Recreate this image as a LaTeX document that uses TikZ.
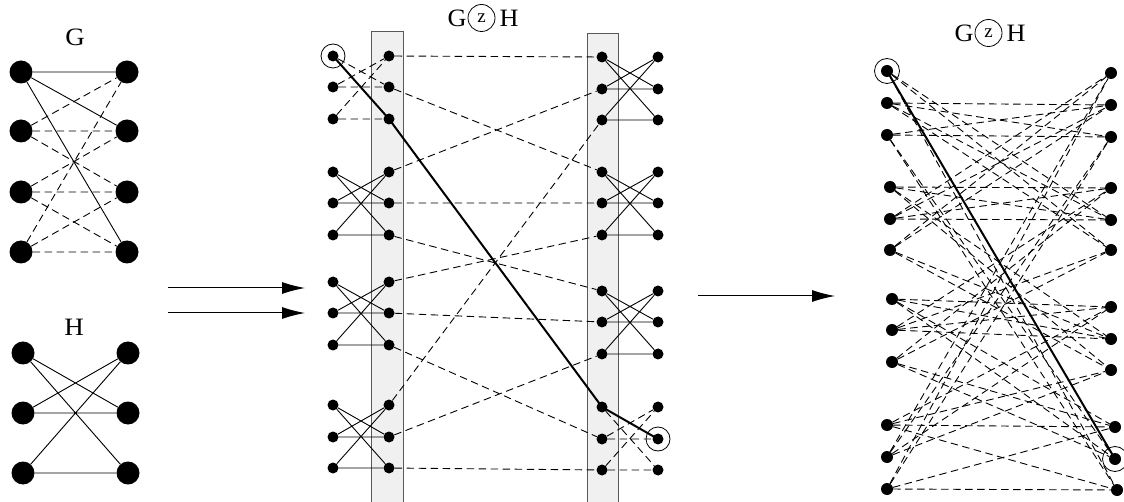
\documentclass[tikz,border=0pt]{standalone}
\usepackage{fontspec}
\usepackage{graphicx}
\setmainfont{Liberation Serif}
\usetikzlibrary{arrows.meta}
\tikzset{
  bigdot/.style={circle,fill=black,inner sep=0pt,minimum size=23pt},
  dot/.style={circle,fill=black,inner sep=0pt,minimum size=11pt},
  zdot/.style={circle,fill=black,inner sep=0pt,minimum size=12pt},
  ring/.style={circle,draw=black,inner sep=0pt,minimum size=24pt,line width=0.8pt},
  hedge/.style={line width=0.9pt},
  gedge/.style={line width=0.9pt,dash pattern=on 7.5pt off 4.5pt},
  walk/.style={line width=2pt,line join=round},
  colbox/.style={fill=gray!12,draw=black!65,line width=1pt},
  arr/.style={line width=1pt,-{Latex[length=23pt,width=12pt]}},
  lbl/.style={inner sep=0pt,font=\fontsize{25}{27}\selectfont},
  ttl/.style={inner sep=0pt,font=\fontsize{25}{27}\selectfont},
  zc/.style={circle,draw,line width=0.8pt,inner sep=0pt,minimum size=27pt,font=\fontsize{19}{20}\selectfont},
}
\begin{document}
\begin{tikzpicture}[x=1pt,y=-1pt]
\useasboundingbox (0,0) rectangle (1124,502);

% ---------- base graph G ----------
\node[lbl] (Glbl) at (75,37) {\scalebox{1.08}[1]{G}};
\foreach \k/\y in {1/72,2/131,3/192,4/252}{
  \node[bigdot] (gL\k) at (21,\y) {};
  \node[bigdot] (gR\k) at (127,\y) {};
}
\draw[hedge] (gL1)--(gR1) (gL1)--(gR2) (gL1)--(gR4);
\draw[gedge] (gL2)--(gR1) (gL2)--(gR2) (gL2)--(gR3)
             (gL3)--(gR2) (gL3)--(gR3) (gL3)--(gR4)
             (gL4)--(gR1) (gL4)--(gR3) (gL4)--(gR4);

% ---------- small graph H ----------
\node[lbl] (Hlbl) at (74,327) {\scalebox{1.08}[1]{H}};
\foreach \k/\y in {1/353,2/413,3/473}{
  \node[bigdot] (hL\k) at (23,\y) {};
  \node[bigdot] (hR\k) at (128,\y) {};
}
\draw[hedge] (hL1)--(hR2) (hL1)--(hR3) (hL2)--(hR1) (hL2)--(hR2)
             (hL3)--(hR1) (hL3)--(hR3);

% ---------- arrows ----------
\coordinate (a1s) at (168,288); \coordinate (a1e) at (305,288);
\coordinate (a2s) at (168,313); \coordinate (a2e) at (305,313);
\coordinate (a3s) at (698,296); \coordinate (a3e) at (835,296);
\draw[arr] (a1s)--(a1e);
\draw[arr] (a2s)--(a2e);
\draw[arr] (a3s)--(a3e);

% ---------- replacement view ----------
\node[ttl] (t1g) at (457,18) {\scalebox{1.05}[1]{G}};
\node[zc]  (t1z) at (481.5,18) {z};
\node[ttl] (t1h) at (509,18) {\scalebox{1.05}[1]{H}};

\draw[colbox] (371,32) rectangle (403,510);
\draw[colbox] (587,34) rectangle (618,510);

\foreach \g/\ya/\yb/\yc in {A/56/87/119,B/172/203/235,C/282/313/345,D/405/437/468}{
  \node[dot] (\g-o1) at (333,\ya) {};
  \node[dot] (\g-o2) at (333,\yb) {};
  \node[dot] (\g-o3) at (333,\yc) {};
  \node[dot] (\g-i1) at (389,\ya) {};
  \node[dot] (\g-i2) at (389,\yb) {};
  \node[dot] (\g-i3) at (389,\yc) {};
}
\foreach \g/\ya/\yb/\yc in {P/57/89/120,Q/172/203/235,R/291/322/354,S/407/439/470}{
  \node[dot] (\g-i1) at (602,\ya) {};
  \node[dot] (\g-i2) at (602,\yb) {};
  \node[dot] (\g-i3) at (602,\yc) {};
  \node[dot] (\g-o1) at (658,\ya) {};
  \node[dot] (\g-o2) at (658,\yb) {};
  \node[dot] (\g-o3) at (658,\yc) {};
}

% cloud edges
\foreach \g in {B,C,D}{
  \draw[hedge] (\g-o1)--(\g-i2) (\g-o1)--(\g-i3) (\g-o2)--(\g-i1)
               (\g-o2)--(\g-i2) (\g-o3)--(\g-i1) (\g-o3)--(\g-i3);
}
\foreach \g in {P,Q,R}{
  \draw[hedge] (\g-i1)--(\g-o2) (\g-i1)--(\g-o3) (\g-i2)--(\g-o1)
               (\g-i2)--(\g-o2) (\g-i3)--(\g-o1) (\g-i3)--(\g-o3);
}
\draw[gedge] (A-o1)--(A-i2) (A-o2)--(A-i1) (A-o2)--(A-i2)
             (A-o3)--(A-i1) (A-o3)--(A-i3);
\draw[gedge] (S-i1)--(S-o3) (S-i2)--(S-o1) (S-i2)--(S-o2)
             (S-i3)--(S-o1) (S-i3)--(S-o3);

% inter-cloud edges
\draw[gedge] (A-i1)--(P-i1) (A-i2)--(Q-i1)
             (B-i1)--(P-i2) (B-i2)--(Q-i2) (B-i3)--(R-i1)
             (C-i1)--(Q-i3) (C-i2)--(R-i2) (C-i3)--(S-i2)
             (D-i1)--(P-i3) (D-i2)--(R-i3) (D-i3)--(S-i3);

% highlighted walk
\draw[walk] (A-o1.center)--(A-i3.center)--(S-i1.center)--(S-o2.center);
\node[ring] (ringA) at (A-o1) {};
\node[ring] (ringS) at (S-o2) {};

% ---------- zig-zag product ----------
\node[ttl] (t2g) at (964,33) {\scalebox{1.05}[1]{G}};
\node[zc]  (t2z) at (988.5,33) {z};
\node[ttl] (t2h) at (1016,33) {\scalebox{1.05}[1]{H}};

\foreach \x/\y [count=\k] in {887/71,887/103,887/135,890/187,890/219,890/250,
                              892/299,892/330,892/362,887/425,887/457,887/489}{
  \node[zdot] (zl\k) at (\x,\y) {};
}
\foreach \x/\y [count=\k] in {1111/73,1111/105,1111/137,1111/188,1111/220,1111/250,
                              1111/307,1111/339,1111/370,1115/427,1115/459,1117/490}{
  \node[zdot] (zr\k) at (\x,\y) {};
}
\foreach \a/\b in {1/5,1/6,1/12,
                   2/2,2/3,2/5,2/6,
                   3/2,3/3,3/11,3/12,
                   4/4,4/5,4/8,4/9,
                   5/1,5/2,5/4,5/5,
                   6/1,6/2,6/8,6/9,
                   7/7,7/8,7/10,7/11,
                   8/4,8/6,8/7,8/8,
                   9/4,9/6,9/10,9/11,
                   10/7,10/9,10/10,10/12,
                   11/1,11/3,11/7,11/9,
                   12/1,12/3,12/10,12/12}{
  \draw[gedge] (zl\a)--(zr\b);
}
\draw[walk] (zl1.center)--(zr11.center);
\node[ring,minimum size=25pt] (ringL) at (zl1) {};
\node[ring,minimum size=25pt] (ringR) at (zr11) {};
\end{tikzpicture}
\end{document}
